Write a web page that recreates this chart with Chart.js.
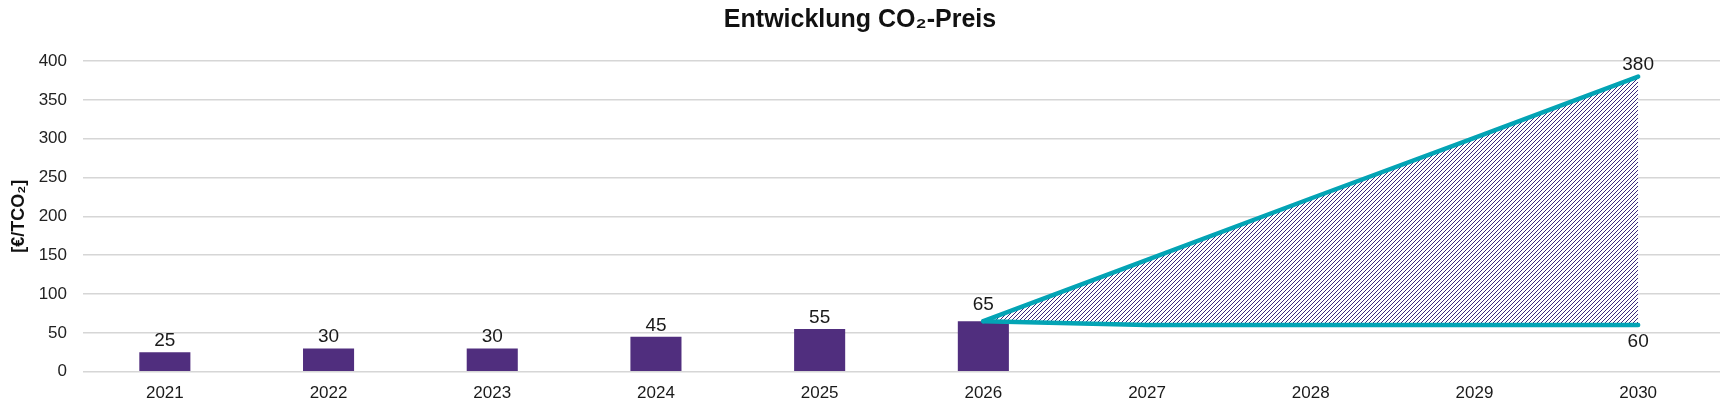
<!DOCTYPE html>
<html>
<head>
<meta charset="utf-8">
<script src="https://cdn.jsdelivr.net/npm/chart.js@4.4.1/dist/chart.umd.min.js"></script>
<style>
  html, body { margin: 0; padding: 0; background: #ffffff; }
  #wrap { width: 1732px; height: 411px; }
</style>
</head>
<body>
<div id="wrap"><canvas id="c" width="1732" height="411"></canvas></div>
<script>
// ---- data ----
const years = ['2021', '2022', '2023', '2024', '2025', '2026', '2027', '2028', '2029', '2030'];
const priceBars = [25, 30, 30, 45, 55, 65, null, null, null, null];
const upperPath = [null, null, null, null, null, 65, 144, 223, 301, 380];
const lowerPath = [null, null, null, null, null, 65, 60, 60, 60, 60];
const yTicks = [0, 50, 100, 150, 200, 250, 300, 350, 400];
const chartTitle = 'Entwicklung CO\u2082-Preis';
const yTitle = '[\u20AC/TCO\u2082]';

// ---- styles ----
const FONT = "'Liberation Sans', Arial, sans-serif";
const PURPLE = '#502E7E';
const TEAL = '#03A4B5';
const HATCH = '#3B2A7C';

function makeHatch() {
  const p = document.createElement('canvas');
  p.width = 4; p.height = 4;
  const g = p.getContext('2d');
  g.fillStyle = '#ffffff';
  g.fillRect(0, 0, 4, 4);
  g.fillStyle = HATCH;
  for (let i = 0; i < 4; i++) g.fillRect(3 - i, i, 1, 1);
  return document.getElementById('c').getContext('2d').createPattern(p, 'repeat');
}

const valueLabels = {
  id: 'valueLabels',
  afterDatasetsDraw(chart) {
    const ctx = chart.ctx;
    ctx.save();
    ctx.font = '19px ' + FONT;
    ctx.fillStyle = '#1a1a1a';
    ctx.textAlign = 'center';
    ctx.textBaseline = 'alphabetic';
    chart.data.datasets.forEach((ds, di) => {
      const meta = chart.getDatasetMeta(di);
      if (ds.type === 'bar') {
        meta.data.forEach((el, i) => {
          const v = ds.data[i];
          if (v === null || v === undefined) return;
          const shared = chart.data.datasets.some((o, oi) => oi !== di && o.data[i] !== null);
          ctx.fillText(String(v), el.x, el.y - (shared ? 11 : 6));
        });
      } else if (ds.lastLabel) {
        const i = ds.data.length - 1;
        const el = meta.data[i];
        const v = ds.data[i];
        if (ds.lastLabel === 'above') ctx.fillText(String(v), el.x, el.y - 7);
        else ctx.fillText(String(v), el.x, el.y + 21.5);
      }
    });
    ctx.restore();
  }
};

new Chart(document.getElementById('c'), {
  data: {
    labels: years,
    datasets: [
      {
        type: 'line',
        label: 'Obere Spanne',
        data: upperPath,
        borderColor: TEAL,
        borderWidth: 4.5,
        borderCapStyle: 'round',
        borderJoinStyle: 'round',
        pointRadius: 0,
        tension: 0,
        fill: { target: 1 },
        backgroundColor: makeHatch(),
        lastLabel: 'above',
        order: 1
      },
      {
        type: 'line',
        label: 'Untere Spanne',
        data: lowerPath,
        borderColor: TEAL,
        borderWidth: 4.5,
        borderCapStyle: 'round',
        borderJoinStyle: 'round',
        pointRadius: 0,
        tension: 0,
        fill: false,
        lastLabel: 'below',
        order: 0
      },
      {
        type: 'bar',
        label: 'CO\u2082-Preis',
        data: priceBars,
        backgroundColor: PURPLE,
        barPercentage: 0.312,
        categoryPercentage: 1.0,
        order: 2
      }
    ]
  },
  options: {
    responsive: false,
    animation: false,
    devicePixelRatio: 1,
    layout: { padding: { left: 0, right: 12, top: 0, bottom: 0 } },
    plugins: {
      legend: { display: false },
      tooltip: { enabled: false },
      title: {
        display: true,
        text: chartTitle,
        color: '#111111',
        font: { family: FONT, size: 25, weight: 'bold', lineHeight: 1.2 },
        padding: { top: 5, bottom: 26 }
      }
    },
    scales: {
      x: {
        offset: true,
        grid: { display: false, drawTicks: false },
        border: { display: false },
        ticks: {
          color: '#1a1a1a',
          font: { family: FONT, size: 17 },
          padding: 11,
          maxRotation: 0
        },
        afterFit(scale) { scale.height = 39.3; }
      },
      y: {
        min: 0,
        max: 400,
        afterBuildTicks(scale) { scale.ticks = yTicks.map(v => ({ value: v })); },
        grid: { color: '#d6d6d6', lineWidth: 1.5, drawTicks: false },
        border: { display: false },
        ticks: {
          color: '#222222',
          font: { family: FONT, size: 17 },
          padding: 16
        },
        title: {
          display: true,
          text: yTitle,
          color: '#111111',
          font: { family: FONT, size: 18, weight: 'bold', lineHeight: 1.2 },
          padding: { top: 8, bottom: 0 }
        },
        afterFit(scale) { scale.width = 83; }
      }
    }
  },
  plugins: [valueLabels]
});
</script>
</body>
</html>
